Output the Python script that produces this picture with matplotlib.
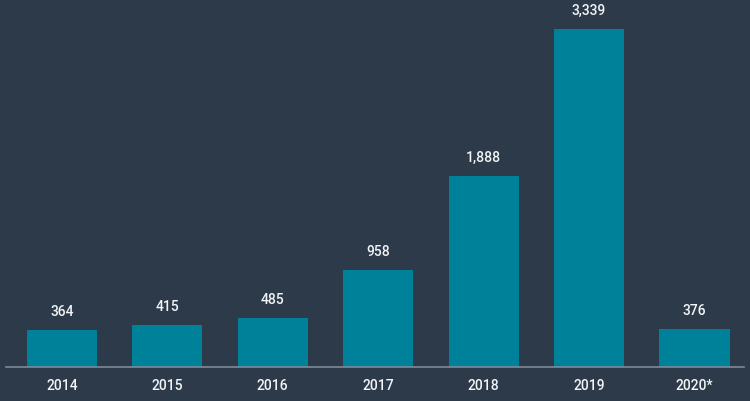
import matplotlib
matplotlib.use("Agg")
import matplotlib.pyplot as plt

# values
years = ["2014", "2015", "2016", "2017", "2018", "2019", "2020*"]
values = [364, 415, 485, 958, 1888, 3339, 376]

bg_color = "#2c3a4a"
bar_color = "#00819a"
text_color = "#f2f4f6"

plt.rcParams['font.family'] = ['Roboto', 'DejaVu Sans']

fig = plt.figure(figsize=(7.5, 4.01), dpi=100, facecolor=bg_color)
# axes: left edge of baseline ~6px, right ~744px, baseline at y=367px
ax = fig.add_axes([6 / 750, (401 - 367) / 401, 738 / 750, 367 / 401])
ax.set_facecolor(bg_color)

x = list(range(len(years)))
ax.bar(x, values, width=0.665, color=bar_color, zorder=2)

for xi, v in zip(x, values):
    ax.annotate(f"{v:,}", (xi, v), xytext=(0, 13), textcoords="offset points",
                ha="center", va="center", color=text_color, fontsize=10,
                fontweight="medium")

ax.set_xlim(-0.53, 6.47)
ax.set_ylim(0, 3630)
ax.set_xticks(x)
ax.set_xticklabels(years, color=text_color, fontsize=10, fontweight="medium")
ax.tick_params(axis="x", length=0, pad=9)
ax.set_yticks([])

for side in ["top", "right", "left"]:
    ax.spines[side].set_visible(False)
ax.spines["bottom"].set_color("#7d8b99")
ax.spines["bottom"].set_linewidth(1.2)

fig.savefig("out.png", dpi=100, facecolor=bg_color)
